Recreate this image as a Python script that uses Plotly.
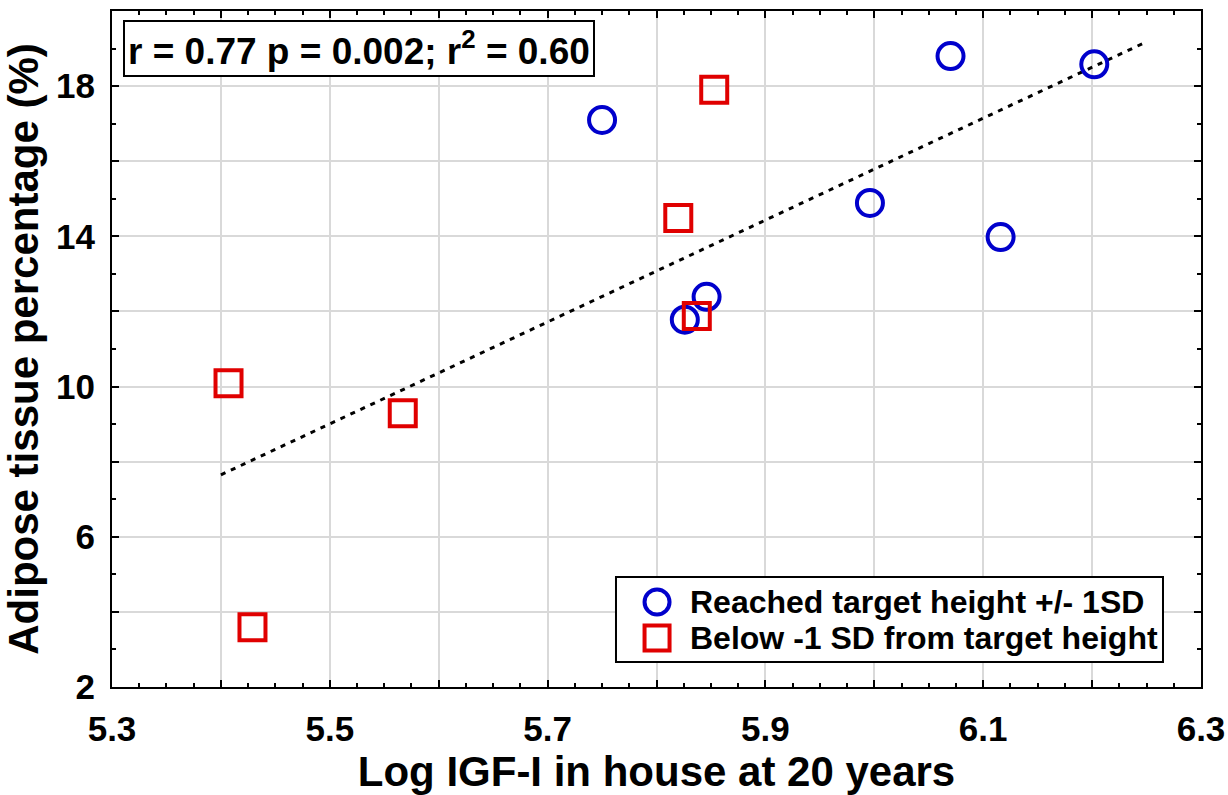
import plotly.graph_objects as go

# Log IGF-I at 20 years vs adipose tissue percentage
reached_x = [5.750, 6.070, 6.202, 5.996, 6.116, 5.846, 5.826]
reached_y = [17.10, 18.80, 18.58, 14.89, 13.98, 12.39, 11.78]

below_x = [5.853, 5.820, 5.837, 5.407, 5.567, 5.429]
below_y = [17.90, 14.49, 11.88, 10.09, 9.29, 3.59]

# regression line end points
trend_x = [5.40, 6.25]
trend_y = [7.65, 19.18]

x_ticks = [5.3, 5.4, 5.5, 5.6, 5.7, 5.8, 5.9, 6.0, 6.1, 6.2, 6.3]
x_ticktext = ["5.3", "", "5.5", "", "5.7", "", "5.9", "", "6.1", "", "6.3"]
y_ticks = [2, 4, 6, 8, 10, 12, 14, 16, 18, 20]
y_ticktext = ["2", "", "6", "", "10", "", "14", "", "18", ""]

reached_label = "Reached target height +/- 1SD"
below_label = "Below -1 SD from target height"
stats_label = "r = 0.77 p = 0.002; r<sup>2</sup> = 0.60"

FONT = "Liberation Sans, Arial, sans-serif"
BLUE = "#0000cc"
RED = "#e00000"


def bold(labels):
    return [f"<b>{t}</b>" if t else "" for t in labels]


fig = go.Figure()

fig.add_trace(go.Scatter(
    x=trend_x, y=trend_y, mode="lines",
    line=dict(color="black", width=3, dash="5px,6px"),
    showlegend=False, hoverinfo="skip",
))
fig.add_trace(go.Scatter(
    x=reached_x, y=reached_y, mode="markers", name=reached_label,
    marker=dict(symbol="circle-open", size=26, color=BLUE,
                line=dict(color=BLUE, width=4)),
    showlegend=False,
))
fig.add_trace(go.Scatter(
    x=below_x, y=below_y, mode="markers", name=below_label,
    marker=dict(symbol="square-open", size=26, color=RED,
                line=dict(color=RED, width=4)),
    showlegend=False,
))

axis_common = dict(
    showline=True, linecolor="black", linewidth=2, mirror="ticks",
    ticks="inside", tickcolor="black", tickwidth=2, ticklen=7,
    showgrid=True, gridcolor="#d9d9d9", gridwidth=2,
    zeroline=False, automargin=False,
    tickfont=dict(family=FONT, size=35, color="black", weight=700),
)

fig.update_xaxes(
    range=[5.3, 6.3], tickmode="array", tickvals=x_ticks, ticktext=bold(x_ticktext),
    minor=dict(dtick=0.025, tick0=5.3, ticks="inside", ticklen=4,
               tickcolor="black", tickwidth=2, showgrid=False),
    title=dict(text="<b>Log IGF-I in house at 20 years</b>",
               font=dict(family=FONT, size=42, color="black"), standoff=22),
    ticklabelstandoff=10,
    **axis_common,
)
fig.update_yaxes(
    range=[2, 20], tickmode="array", tickvals=y_ticks, ticktext=bold(y_ticktext),
    minor=dict(dtick=1, tick0=2, ticks="inside", ticklen=4,
               tickcolor="black", tickwidth=2, showgrid=False),
    title=dict(text="<b>Adipose tissue percentage (%)</b>",
               font=dict(family=FONT, size=42, color="black"), standoff=10),
    ticklabelstandoff=8,
    **axis_common,
)

# statistics box
fig.add_annotation(
    xref="paper", yref="paper", x=0.0101, y=0.986,
    xanchor="left", yanchor="top", showarrow=False,
    text=f"<b>{stats_label}</b>",
    font=dict(family=FONT, size=37, color="black"),
    bordercolor="black", borderwidth=2, borderpad=3, bgcolor="white",
)

# legend: framed box with a key glyph and label per group
legend_box = dict(x0=0.4628, x1=0.9651, y0=0.037, y1=0.1627)
key_x = 0.5005
text_x = 0.5289
rows = [
    (0.1257, "circle", BLUE, reached_label),
    (0.0725, "rect", RED, below_label),
]

shapes = [dict(type="rect", xref="paper", yref="paper", layer="above",
               line=dict(color="black", width=2), fillcolor="white", **legend_box)]
for row_y, kind, colour, label in rows:
    shapes.append(dict(
        type=kind, xref="paper", yref="paper", layer="above",
        xsizemode="pixel", ysizemode="pixel", xanchor=key_x, yanchor=row_y,
        x0=-12.5, x1=12.5, y0=-12.5, y1=12.5,
        line=dict(color=colour, width=4), fillcolor="rgba(0,0,0,0)",
    ))
    fig.add_annotation(
        xref="paper", yref="paper", x=text_x, y=row_y,
        xanchor="left", yanchor="middle", showarrow=False,
        text=f"<b>{label}</b>",
        font=dict(family=FONT, size=32, color="black"),
    )

fig.update_layout(
    width=1228, height=795,
    margin=dict(l=112, r=27, t=11, b=108),
    plot_bgcolor="white", paper_bgcolor="white",
    shapes=shapes,
    showlegend=False,
)

fig.write_html("out.html")
